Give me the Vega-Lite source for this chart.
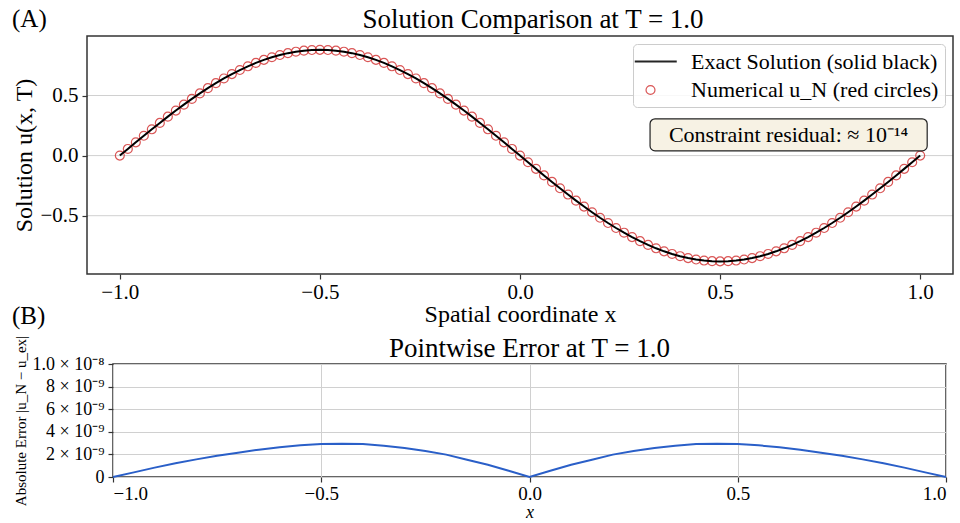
{
  "$schema": "https://vega.github.io/schema/vega-lite/v6.json",
  "padding": {"left": 12, "top": 5, "right": 0, "bottom": 0},
  "columns": 1,
  "spacing": 4,
  "resolve": {
    "scale": {"color": "independent", "shape": "independent", "size": "independent", "strokeWidth": "independent"},
    "legend": {"color": "independent", "shape": "independent", "size": "independent", "strokeWidth": "independent"}
  },
  "config": {
    "font": "Liberation Serif",
    "view": {"stroke": "#333333", "strokeWidth": 1.5},
    "axis": {
      "labelFont": "Liberation Serif", "titleFont": "Liberation Serif",
      "labelColor": "black", "titleColor": "black", "titleFontWeight": "normal",
      "tickColor": "#333333", "tickSize": 5, "tickWidth": 1.2, "domain": false,
      "gridColor": "#d0d0d0", "gridWidth": 1, "labelPadding": 4
    },
    "title": {"font": "Liberation Serif", "fontWeight": "normal", "color": "black"},
    "legend": {"labelFont": "Liberation Serif", "labelColor": "black", "labelFontSize": 22, "labelLimit": 400, "labelOffset": 29, "rowPadding": 6, "padding": 6}
  },
  "datasets": {
    "sol": [
      {"x": -1, "u": 0}, {"x": -0.98, "u": 0.0553}, {"x": -0.96, "u": 0.1103}, {"x": -0.94, "u": 0.1649}, {"x": -0.92, "u": 0.2189},
      {"x": -0.9, "u": 0.2719}, {"x": -0.88, "u": 0.324}, {"x": -0.86, "u": 0.3747}, {"x": -0.84, "u": 0.4239}, {"x": -0.82, "u": 0.4715},
      {"x": -0.8, "u": 0.5173}, {"x": -0.78, "u": 0.5609}, {"x": -0.76, "u": 0.6024}, {"x": -0.74, "u": 0.6415}, {"x": -0.72, "u": 0.6781},
      {"x": -0.7, "u": 0.7119}, {"x": -0.68, "u": 0.743}, {"x": -0.66, "u": 0.7712}, {"x": -0.64, "u": 0.7963}, {"x": -0.62, "u": 0.8182},
      {"x": -0.6, "u": 0.8369}, {"x": -0.58, "u": 0.8524}, {"x": -0.56, "u": 0.8644}, {"x": -0.54, "u": 0.8731}, {"x": -0.52, "u": 0.8783},
      {"x": -0.5, "u": 0.88}, {"x": -0.48, "u": 0.8783}, {"x": -0.46, "u": 0.8731}, {"x": -0.44, "u": 0.8644}, {"x": -0.42, "u": 0.8524},
      {"x": -0.4, "u": 0.8369}, {"x": -0.38, "u": 0.8182}, {"x": -0.36, "u": 0.7963}, {"x": -0.34, "u": 0.7712}, {"x": -0.32, "u": 0.743},
      {"x": -0.3, "u": 0.7119}, {"x": -0.28, "u": 0.6781}, {"x": -0.26, "u": 0.6415}, {"x": -0.24, "u": 0.6024}, {"x": -0.22, "u": 0.5609},
      {"x": -0.2, "u": 0.5173}, {"x": -0.18, "u": 0.4715}, {"x": -0.16, "u": 0.4239}, {"x": -0.14, "u": 0.3747}, {"x": -0.12, "u": 0.324},
      {"x": -0.1, "u": 0.2719}, {"x": -0.08, "u": 0.2189}, {"x": -0.06, "u": 0.1649}, {"x": -0.04, "u": 0.1103}, {"x": -0.02, "u": 0.0553},
      {"x": 0, "u": 0},
      {"x": 0.02, "u": -0.0553}, {"x": 0.04, "u": -0.1103}, {"x": 0.06, "u": -0.1649}, {"x": 0.08, "u": -0.2189}, {"x": 0.1, "u": -0.2719},
      {"x": 0.12, "u": -0.324}, {"x": 0.14, "u": -0.3747}, {"x": 0.16, "u": -0.4239}, {"x": 0.18, "u": -0.4715}, {"x": 0.2, "u": -0.5173},
      {"x": 0.22, "u": -0.5609}, {"x": 0.24, "u": -0.6024}, {"x": 0.26, "u": -0.6415}, {"x": 0.28, "u": -0.6781}, {"x": 0.3, "u": -0.7119},
      {"x": 0.32, "u": -0.743}, {"x": 0.34, "u": -0.7712}, {"x": 0.36, "u": -0.7963}, {"x": 0.38, "u": -0.8182}, {"x": 0.4, "u": -0.8369},
      {"x": 0.42, "u": -0.8524}, {"x": 0.44, "u": -0.8644}, {"x": 0.46, "u": -0.8731}, {"x": 0.48, "u": -0.8783}, {"x": 0.5, "u": -0.88},
      {"x": 0.52, "u": -0.8783}, {"x": 0.54, "u": -0.8731}, {"x": 0.56, "u": -0.8644}, {"x": 0.58, "u": -0.8524}, {"x": 0.6, "u": -0.8369},
      {"x": 0.62, "u": -0.8182}, {"x": 0.64, "u": -0.7963}, {"x": 0.66, "u": -0.7712}, {"x": 0.68, "u": -0.743}, {"x": 0.7, "u": -0.7119},
      {"x": 0.72, "u": -0.6781}, {"x": 0.74, "u": -0.6415}, {"x": 0.76, "u": -0.6024}, {"x": 0.78, "u": -0.5609}, {"x": 0.8, "u": -0.5173},
      {"x": 0.82, "u": -0.4715}, {"x": 0.84, "u": -0.4239}, {"x": 0.86, "u": -0.3747}, {"x": 0.88, "u": -0.324}, {"x": 0.9, "u": -0.2719},
      {"x": 0.92, "u": -0.2189}, {"x": 0.94, "u": -0.1649}, {"x": 0.96, "u": -0.1103}, {"x": 0.98, "u": -0.0553}, {"x": 1, "u": 0}
    ],
    "err": [
      {"x": -1, "e": 0}, {"x": -0.95, "e": 0.41e-9}, {"x": -0.9, "e": 0.83e-9}, {"x": -0.85, "e": 1.21e-9}, {"x": -0.8, "e": 1.56e-9},
      {"x": -0.75, "e": 1.89e-9}, {"x": -0.7, "e": 2.15e-9}, {"x": -0.65, "e": 2.42e-9}, {"x": -0.6, "e": 2.63e-9}, {"x": -0.55, "e": 2.8e-9},
      {"x": -0.5, "e": 2.91e-9}, {"x": -0.45, "e": 2.95e-9}, {"x": -0.4, "e": 2.91e-9}, {"x": -0.35, "e": 2.77e-9}, {"x": -0.3, "e": 2.57e-9},
      {"x": -0.25, "e": 2.3e-9}, {"x": -0.2, "e": 1.98e-9}, {"x": -0.15, "e": 1.53e-9}, {"x": -0.1, "e": 1.09e-9}, {"x": -0.05, "e": 0.56e-9},
      {"x": 0, "e": 0},
      {"x": 0.05, "e": 0.56e-9}, {"x": 0.1, "e": 1.09e-9}, {"x": 0.15, "e": 1.53e-9}, {"x": 0.2, "e": 1.98e-9}, {"x": 0.25, "e": 2.3e-9},
      {"x": 0.3, "e": 2.57e-9}, {"x": 0.35, "e": 2.77e-9}, {"x": 0.4, "e": 2.91e-9}, {"x": 0.45, "e": 2.95e-9}, {"x": 0.5, "e": 2.91e-9},
      {"x": 0.55, "e": 2.8e-9}, {"x": 0.6, "e": 2.63e-9}, {"x": 0.65, "e": 2.42e-9}, {"x": 0.7, "e": 2.15e-9}, {"x": 0.75, "e": 1.89e-9},
      {"x": 0.8, "e": 1.56e-9}, {"x": 0.85, "e": 1.21e-9}, {"x": 0.9, "e": 0.83e-9}, {"x": 0.95, "e": 0.41e-9}, {"x": 1, "e": 0}
    ]
  },
  "concat": [
    {
      "width": 840,
      "height": 238,
      "view": {"stroke": null},
      "title": {"text": "Solution Comparison at T = 1.0", "fontSize": 27, "offset": -27},
      "encoding": {
        "x": {"type": "quantitative", "scale": {"domain": [-1.082, 1.082], "range": [-26, 840], "nice": false, "zero": false},
              "axis": {"values": [-1, -0.5, 0, 0.5, 1], "format": ".1f", "title": "Spatial coordinate x", "labelFontSize": 21, "labelPadding": 2, "titleFontSize": 24, "titlePadding": 0}},
        "y": {"type": "quantitative", "scale": {"domain": [-0.985, 0.995], "nice": false, "zero": false},
              "axis": {"values": [-0.5, 0, 0.5], "format": ".1f", "grid": false, "offset": 26, "title": "Solution u(x, T)", "labelFontSize": 21, "titleFontSize": 24, "titlePadding": 3}}
      },
      "layer": [
        {
          "data": {"values": [{"g": -0.5}, {"g": 0}, {"g": 0.5}]},
          "mark": {"type": "rule", "color": "#d0d0d0", "strokeWidth": 1},
          "encoding": {
            "y": {"field": "g", "type": "quantitative"},
            "x": {"datum": -1.082}, "x2": {"datum": 1.082}
          }
        },
        {
          "data": {"name": "sol"},
          "mark": {"type": "point", "filled": false, "opacity": 0.85},
          "encoding": {
            "x": {"field": "x", "type": "quantitative"},
            "y": {"field": "u", "type": "quantitative"},
            "color": {
              "datum": "Numerical u_N (red circles)",
              "type": "nominal",
              "scale": {"domain": ["Exact Solution (solid black)", "Numerical u_N (red circles)"], "range": ["#000000", "#d43a3a"]},
              "legend": {
                "title": null, "orient": "top-right", "offset": 8,
                "fillColor": "rgba(255,255,255,0.85)", "strokeColor": "#cccccc", "cornerRadius": 4
              }
            },
            "shape": {
              "datum": "Numerical u_N (red circles)",
              "type": "nominal",
              "scale": {"domain": ["Exact Solution (solid black)", "Numerical u_N (red circles)"], "range": ["M-1.5,0L2.5,0", "circle"]},
              "legend": {
                "title": null, "orient": "top-right", "offset": 8,
                "fillColor": "rgba(255,255,255,0.85)", "strokeColor": "#cccccc", "cornerRadius": 4
              }
            },
            "size": {
              "datum": "Numerical u_N (red circles)",
              "type": "nominal",
              "scale": {"domain": ["Exact Solution (solid black)", "Numerical u_N (red circles)"], "range": [441, 80]},
              "legend": {
                "title": null, "orient": "top-right", "offset": 8,
                "fillColor": "rgba(255,255,255,0.85)", "strokeColor": "#cccccc", "cornerRadius": 4
              }
            },
            "strokeWidth": {
              "datum": "Numerical u_N (red circles)",
              "type": "nominal",
              "scale": {"domain": ["Exact Solution (solid black)", "Numerical u_N (red circles)"], "range": [2, 1.2]},
              "legend": {
                "title": null, "orient": "top-right", "offset": 8,
                "fillColor": "rgba(255,255,255,0.85)", "strokeColor": "#cccccc", "cornerRadius": 4
              }
            }
          }
        },
        {
          "data": {"name": "sol"},
          "mark": {"type": "line", "strokeWidth": 2},
          "encoding": {
            "x": {"field": "x", "type": "quantitative"},
            "y": {"field": "u", "type": "quantitative"},
            "color": {"datum": "Exact Solution (solid black)", "type": "nominal"}
          }
        },
        {
          "data": {"values": [{"item": "annotation"}]},
          "mark": {"type": "rect", "fill": "#f7f2e4", "stroke": "#222222", "strokeWidth": 1.2, "cornerRadius": 5},
          "encoding": {
            "x": {"datum": 0.325}, "x2": {"datum": 1.0175},
            "y": {"datum": 0.306}, "y2": {"datum": 0.039}
          }
        },
        {
          "data": {"values": [{"item": "annotation"}]},
          "mark": {"type": "text", "fontSize": 22, "align": "center", "baseline": "middle", "color": "black"},
          "encoding": {
            "x": {"datum": 0.671}, "y": {"datum": 0.1725},
            "text": {"value": "Constraint residual: ≈ 10⁻¹⁴"}
          }
        },
        {
          "data": {"values": [{"item": "frame"}]},
          "mark": {"type": "rect", "fillOpacity": 0, "stroke": "#333333", "strokeWidth": 1.5},
          "encoding": {
            "x": {"datum": -1.082}, "x2": {"datum": 1.082},
            "y": {"datum": -0.985}, "y2": {"datum": 0.995}
          }
        },
        {
          "data": {"values": [{"item": "A"}]},
          "mark": {"type": "text", "fontSize": 25, "align": "left", "baseline": "alphabetic", "color": "black"},
          "encoding": {
            "x": {"datum": -1.2694}, "y": {"datum": 1.07},
            "text": {"value": "(A)"}
          }
        },
        {
          "data": {"values": [{"item": "B"}]},
          "mark": {"type": "text", "fontSize": 25, "align": "left", "baseline": "alphabetic", "color": "black"},
          "encoding": {
            "x": {"datum": -1.2694}, "y": {"datum": -1.401},
            "text": {"value": "(B)"}
          }
        }
      ]
    },
    {
      "width": 833,
      "height": 113,
      "title": {"text": "Pointwise Error at T = 1.0", "fontSize": 27, "offset": -28},
      "data": {"name": "err"},
      "mark": {"type": "line", "color": "#2a5fc8", "strokeWidth": 2},
      "encoding": {
        "x": {"field": "x", "type": "quantitative", "scale": {"domain": [-1, 1], "nice": false, "zero": false},
              "axis": {"values": [-1, -0.5, 0, 0.5, 1], "format": ".1f", "title": "x", "titleFontStyle": "italic", "labelFontSize": 19, "labelPadding": 2, "titleFontSize": 18, "titlePadding": 0}},
        "y": {"field": "e", "type": "quantitative", "scale": {"domain": [0, 1e-8], "nice": false},
              "axis": {"values": [0, 2e-9, 4e-9, 6e-9, 8e-9, 1e-8],
                       "labelExpr": "datum.value < 1e-12 ? '0' : (datum.value > 9.9e-9 ? '1.0 × 10⁻⁸' : round(datum.value * 1e9) + ' × 10⁻⁹')",
                       "title": "Absolute Error |u_N − u_ex|", "labelFontSize": 18, "titleFontSize": 15, "titlePadding": 4}}
      }
    }
  ]
}
